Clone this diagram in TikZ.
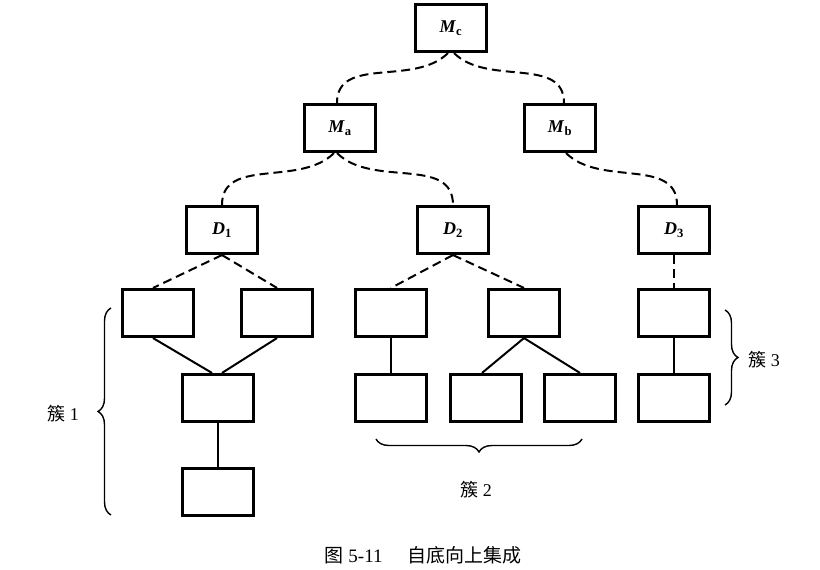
\documentclass[tikz,border=0pt]{standalone}
\usepackage{fontspec}
\setmainfont{Liberation Serif}
\newfontfamily\cjk{Noto Sans CJK SC}
\usetikzlibrary{decorations.pathreplacing}
\newcommand{\blab}[2]{\textbf{\textit{#1}\textsubscript{#2}}}
\begin{document}
\begin{tikzpicture}[x=1pt,y=1pt,
	box/.style={rectangle, draw, line width=2.6pt, minimum width=71.5pt, minimum height=47.5pt, inner sep=0pt, font=\fontsize{18}{18}\selectfont},
	dline/.style={line width=2pt, dash pattern=on 9pt off 5pt},
	sline/.style={line width=2pt},
	brc/.style={decorate, decoration={brace, amplitude=13pt}, line width=1.4pt},
	lab/.style={font=\fontsize{18}{18}\selectfont}]

	\useasboundingbox (0,0) rectangle (820,570);

	\node 	(mc)		at	(451,542) 	[box]{\blab{M}{c}};

	\node 	(ma)		at	(340,442) 	[box]{\blab{M}{a}};
	\node 	(mb)		at	(560,442) 	[box]{\blab{M}{b}};

	\node 	(d1)		at	(222,340) 	[box]{\blab{D}{1}};
	\node 	(d2)		at	(453,340) 	[box]{\blab{D}{2}};
	\node 	(d3)		at	(674,340) 	[box]{\blab{D}{3}};

%	cluster 1
	\node 	(u11)		at	(158,257) 	[box]{};
	\node 	(u12)		at	(277,257) 	[box]{};
	\node 	(u13)		at	(218,172) 	[box]{};
	\node 	(u14)		at	(218,78) 	[box]{};

%	cluster 2
	\node 	(u21)		at	(391,257) 	[box]{};
	\node 	(u22)		at	(524,257) 	[box]{};
	\node 	(u23)		at	(391,172) 	[box]{};
	\node 	(u24)		at	(486,172) 	[box]{};
	\node 	(u25)		at	(580,172) 	[box]{};

%	cluster 3
	\node 	(u31)		at	(674,257) 	[box]{};
	\node 	(u32)		at	(674,172) 	[box]{};

	\draw[dline]	([xshift=-3pt]mc.south)	to[out=-135,in=90]	([xshift=-3pt]ma.north);
	\draw[dline]	([xshift=3pt]mc.south)	to[out=-45,in=90]	([xshift=4pt]mb.north);
	\draw[dline]	([xshift=-6pt]ma.south)	to[out=-135,in=90]	(d1.north);
	\draw[dline]	([xshift=-3pt]ma.south)	to[out=-45,in=90]	(d2.north);
	\draw[dline]	([xshift=6pt]mb.south)	to[out=-45,in=90]	([xshift=3pt]d3.north);

	\draw[dline]	(d1.south)	--	([xshift=-5pt]u11.north);
	\draw[dline]	(d1.south)	--	(u12.north);
	\draw[dline]	(d2.south)	--	(u21.north);
	\draw[dline]	(d2.south)	--	(u22.north);
	\draw[dline]	(d3.south)	--	(u31.north);

	\draw[sline]	([xshift=-5pt]u11.south)	--	([xshift=-6pt]u13.north);
	\draw[sline]	(u12.south)	--	([xshift=4pt]u13.north);
	\draw[sline]	(u13.south)	--	(u14.north);
	\draw[sline]	(u21.south)	--	(u23.north);
	\draw[sline]	(u22.south)	--	([xshift=-4pt]u24.north);
	\draw[sline]	(u22.south)	--	(u25.north);
	\draw[sline]	(u31.south)	--	(u32.north);

	\draw[brc]	(111,55)	--	(111,262);
	\draw[brc]	(582,131)	--	(376,131);
	\draw[brc]	(725,260)	--	(725,165);

	\node 	(c1)		at	(63,156) 	[lab]{{\cjk 簇} 1};
	\node 	(c2)		at	(476,80) 	[lab]{{\cjk 簇} 2};
	\node 	(c3)		at	(764,210) 	[lab]{{\cjk 簇} 3};

	\node 	(cap)		at	(423,15) 	[font=\fontsize{19}{19}\selectfont]{{\cjk 图} 5-11\hspace{1.3em}{\cjk 自底向上集成}};

\end{tikzpicture}
\end{document}
